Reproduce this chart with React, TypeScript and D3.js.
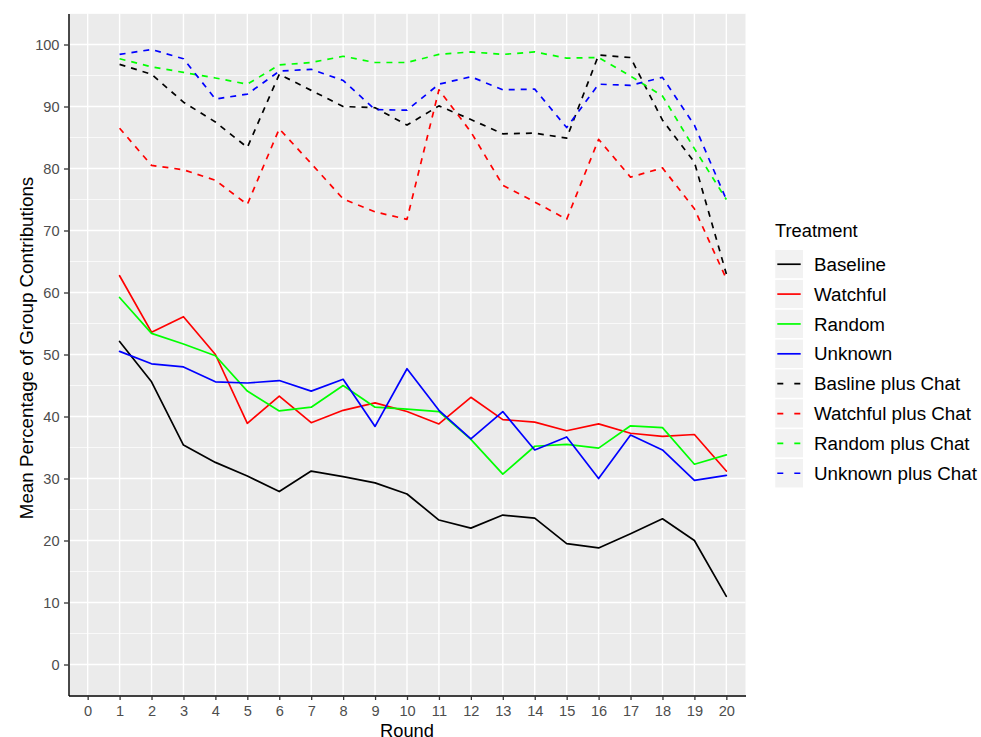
import { useEffect, useRef } from 'react';
import * as d3 from 'd3';

const rounds = [1, 2, 3, 4, 5, 6, 7, 8, 9, 10, 11, 12, 13, 14, 15, 16, 17, 18, 19, 20];
const xTicks = [0, 1, 2, 3, 4, 5, 6, 7, 8, 9, 10, 11, 12, 13, 14, 15, 16, 17, 18, 19, 20];
const yTicks = [0, 10, 20, 30, 40, 50, 60, 70, 80, 90, 100];

const baseline = [52.1, 45.6, 35.4, 32.6, 30.4, 27.9, 31.2, 30.3, 29.3, 27.5, 23.3, 22.0, 24.1, 23.6, 19.5, 18.8, 21.1, 23.5, 20.0, 11.0];
const watchful = [62.7, 53.6, 56.1, 50.0, 38.9, 43.3, 39.0, 41.0, 42.2, 40.8, 38.8, 43.1, 39.5, 39.1, 37.7, 38.8, 37.3, 36.8, 37.1, 31.2];
const random = [59.2, 53.4, 51.7, 49.8, 44.1, 40.9, 41.5, 45.0, 41.5, 41.2, 40.8, 36.3, 30.7, 35.2, 35.5, 34.9, 38.5, 38.2, 32.3, 33.8];
const unknown = [50.5, 48.5, 48.0, 45.6, 45.4, 45.8, 44.1, 46.0, 38.4, 47.7, 41.0, 36.4, 40.8, 34.6, 36.7, 30.0, 37.0, 34.6, 29.7, 30.5];
const baselineChat = [96.8, 95.2, 90.7, 87.5, 83.4, 95.2, 92.6, 90.0, 89.8, 87.0, 90.1, 87.9, 85.6, 85.7, 84.9, 98.3, 97.9, 87.8, 81.0, 63.0];
const watchfulChat = [86.5, 80.5, 79.8, 78.1, 74.2, 86.4, 80.8, 75.1, 73.0, 71.8, 92.7, 85.9, 77.3, 74.6, 71.8, 84.7, 78.6, 80.1, 73.5, 62.2];
const randomChat = [97.7, 96.4, 95.5, 94.6, 93.6, 96.7, 97.1, 98.1, 97.1, 97.1, 98.4, 98.8, 98.4, 98.8, 97.8, 97.9, 94.9, 91.7, 83.2, 75.0];
const unknownChat = [98.4, 99.2, 97.7, 91.2, 92.0, 95.7, 96.0, 94.2, 89.5, 89.4, 93.6, 94.8, 92.7, 92.8, 86.6, 93.6, 93.4, 94.7, 87.0, 75.0];

const series = [
  { name: 'Baseline', values: baseline, color: '#000000', dashed: false },
  { name: 'Watchful', values: watchful, color: '#FF0000', dashed: false },
  { name: 'Random', values: random, color: '#00FF00', dashed: false },
  { name: 'Unknown', values: unknown, color: '#0000FF', dashed: false },
  { name: 'Basline plus Chat', values: baselineChat, color: '#000000', dashed: true },
  { name: 'Watchful plus Chat', values: watchfulChat, color: '#FF0000', dashed: true },
  { name: 'Random plus Chat', values: randomChat, color: '#00FF00', dashed: true },
  { name: 'Unknown plus Chat', values: unknownChat, color: '#0000FF', dashed: true },
];

const font = '"Liberation Sans", Arial, Helvetica, sans-serif';
const DASH = '6,6';

export default function App() {
  const xRef = useRef<SVGGElement>(null);
  const yRef = useRef<SVGGElement>(null);

  const width = 981;
  const height = 737;
  const left = 68.5;
  const right = 745.5;
  const top = 13.5;
  const bottom = 695.5;

  const x = d3.scaleLinear().domain([-0.6, 20.6]).range([left, right]);
  const y = d3.scaleLinear().domain([-5, 105]).range([bottom, top]);
  const minorY = d3.range(-5, 106, 10);

  const line = d3
    .line<number>()
    .x((_, i) => x(rounds[i]))
    .y((d) => y(d));

  useEffect(() => {
    const gx = d3.select(xRef.current);
    const gy = d3.select(yRef.current);
    gx.call(d3.axisBottom(x).tickValues(xTicks).tickFormat(d3.format('d')).tickSizeInner(4.5).tickSizeOuter(0).tickPadding(6));
    gy.call(d3.axisLeft(y).tickValues(yTicks).tickFormat(d3.format('d')).tickSizeInner(4.5).tickSizeOuter(0).tickPadding(4.5));
    [gx, gy].forEach((g) => {
      g.attr('font-family', font).attr('font-size', 14.6);
      g.selectAll('.tick line').attr('stroke', '#333333').attr('stroke-width', 1.3);
      g.selectAll('.tick text').attr('fill', '#4D4D4D');
      g.select('.domain').attr('stroke', '#000').attr('stroke-width', 1.4);
    });
    return () => {
      gx.selectAll('*').remove();
      gy.selectAll('*').remove();
    };
  }, []);

  const legendX = 774.5;
  const legendTop = 249.3;
  const keyH = 29.86;

  return (
    <svg width={width} height={height} style={{ position: 'absolute', left: 0, top: 0, background: '#fff' }}>
      <rect x={left} y={top} width={right - left} height={bottom - top} fill="#EBEBEB" />
      {minorY.map((v) => (
        <line key={'my' + v} x1={left} x2={right} y1={y(v)} y2={y(v)} stroke="#fff" strokeWidth={0.7} />
      ))}
      {yTicks.map((v) => (
        <line key={'gy' + v} x1={left} x2={right} y1={y(v)} y2={y(v)} stroke="#fff" strokeWidth={1.4} />
      ))}
      {xTicks.map((v) => (
        <line key={'gx' + v} x1={x(v)} x2={x(v)} y1={top} y2={bottom} stroke="#fff" strokeWidth={1.4} />
      ))}
      {series.map((s) => (
        <path
          key={s.name}
          d={line(s.values) || ''}
          fill="none"
          stroke={s.color}
          strokeWidth={1.7}
          strokeDasharray={s.dashed ? DASH : undefined}
          strokeLinejoin="round"
          strokeLinecap={s.dashed ? 'butt' : 'round'}
        />
      ))}
      <g ref={xRef} transform={`translate(0,${bottom})`} />
      <g ref={yRef} transform={`translate(${left},0)`} />

      <text x={(left + right) / 2} y={737} textAnchor="middle" fontFamily={font} fontSize={18.3} fill="#000">
        Round
      </text>
      <text
        transform={`translate(33,348) rotate(-90)`}
        textAnchor="middle"
        fontFamily={font}
        fontSize={18.8}
        fill="#000"
      >
        Mean Percentage of Group Contributions
      </text>

      <text x={775} y={237.3} fontFamily={font} fontSize={18.3} fill="#000">
        Treatment
      </text>
      {series.map((s, i) => {
        const ky = legendTop + i * keyH;
        return (
          <g key={'lg' + s.name}>
            <rect x={legendX} y={ky} width={29.3} height={keyH} fill="#F2F2F2" stroke="#fff" strokeWidth={1.5} />
            <line
              x1={777.3}
              x2={800.7}
              y1={ky + keyH / 2}
              y2={ky + keyH / 2}
              stroke={s.color}
              strokeWidth={1.7}
              strokeDasharray={s.dashed ? '6,11' : undefined}
            />
            <text x={814} y={ky + keyH / 2} dy="0.35em" fontFamily={font} fontSize={18.8} fill="#000">
              {s.name}
            </text>
          </g>
        );
      })}
    </svg>
  );
}
